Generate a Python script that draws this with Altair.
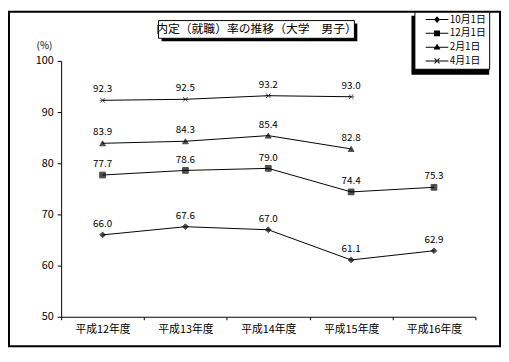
import altair as alt
import pandas as pd

categories = ["平成12年度", "平成13年度", "平成14年度", "平成15年度", "平成16年度"]
series = ["10月1日", "12月1日", "2月1日", "4月1日"]
oct1 = [66.0, 67.6, 67.0, 61.1, 62.9]
dec1 = [77.7, 78.6, 79.0, 74.4, 75.3]
feb1 = [83.9, 84.3, 85.4, 82.8, None]
apr1 = [92.3, 92.5, 93.2, 93.0, None]
title_text = "内定（就職）率の推移（大学　男子）"
unit_text = "(%)"

rows = []
for name, vals in zip(series, [oct1, dec1, feb1, apr1]):
    for c, v in zip(categories, vals):
        if v is not None:
            rows.append({"series": name, "category": c, "value": v})
df = pd.DataFrame(rows)

FONT = "Noto Sans CJK JP"
W, H = 421, 260

xenc = alt.X("category:N", sort=categories, bandPosition=0.5,
             scale=alt.Scale(type="band", domain=categories, paddingInner=0, paddingOuter=0),
             axis=alt.Axis(title=None, tickBand="extent", tickSize=3, labelPadding=4,
                           labelAngle=0, domainColor="black", tickColor="black",
                           labelColor="black", labelFont=FONT, labelFontSize=11))
yenc = alt.Y("value:Q", scale=alt.Scale(domain=[50, 100], nice=False, zero=False),
             axis=alt.Axis(title=None, values=[50, 60, 70, 80, 90, 100], grid=False,
                           tickSize=4, labelPadding=4, domainColor="black",
                           tickColor="black", labelColor="black", labelFont=FONT,
                           labelFontSize=11))

one = alt.Data(values=[{"a": 1}])

frame = alt.Chart(one).mark_rect(fillOpacity=0, stroke="black", strokeWidth=2).encode(
    x=alt.value(-53), x2=alt.value(446), y=alt.value(-50), y2=alt.value(290))

title_shadow = alt.Chart(one).mark_rect(fill="black").encode(
    x=alt.value(102), x2=alt.value(301), y=alt.value(-38), y2=alt.value(-20))
title_box = alt.Chart(one).mark_rect(fill="white", stroke="black", strokeWidth=1).encode(
    x=alt.value(99), x2=alt.value(298), y=alt.value(-41), y2=alt.value(-23))
title = alt.Chart(one).mark_text(font=FONT, fontSize=12, color="black",
                                 align="center", baseline="middle").encode(
    x=alt.value(198.5), y=alt.value(-32), text=alt.value(title_text))
unit = alt.Chart(one).mark_text(font=FONT, fontSize=10, color="black",
                                align="center", baseline="middle").encode(
    x=alt.value(-17), y=alt.value(-15), text=alt.value(unit_text))

legend_shadow = alt.Chart(one).mark_rect(fill="black").encode(
    x=alt.value(356), x2=alt.value(435), y=alt.value(-46), y2=alt.value(14))

base = alt.Chart(df)
lines = base.mark_line(color="black", strokeWidth=1).encode(
    x=xenc, y=yenc, detail="series:N")
xmark = "M-0.8,-0.8L0.8,0.8M0.8,-0.8L-0.8,0.8M-1,0H1"
points = base.mark_point(filled=False, color="black", size=34, strokeWidth=1,
                         fill="black").encode(
    x=xenc, y=yenc,
    shape=alt.Shape("series:N", scale=alt.Scale(domain=series,
                    range=["diamond", "square", "triangle-up", xmark]), legend=None))
labels = base.mark_text(font=FONT, fontSize=10, color="black", dy=-11,
                        baseline="middle").encode(
    x=xenc, y=yenc, text=alt.Text("value:Q", format=".1f"))

LINE = "M-2.3,-0.1H2.3V0.1H-2.3Z"
legend_paths = [
    LINE + "M0,-0.7L0.6,0L0,0.7L-0.6,0Z",
    LINE + "M-0.6,-0.6H0.6V0.6H-0.6Z",
    LINE + "M0,-0.7L0.7,0.5H-0.7Z",
    LINE + "M-0.57,-0.43L0.43,0.57L0.57,0.43L-0.43,-0.57Z"
           "M0.43,-0.57L0.57,-0.43L-0.43,0.57L-0.57,0.43Z",
]
legend_layer = base.mark_point(filled=True, color="black", opacity=0).encode(
    x=xenc, y=yenc,
    shape=alt.Shape("series:N", scale=alt.Scale(domain=series, range=legend_paths),
                    legend=alt.Legend(title=None, orient="none", legendX=359, legendY=-50,
                                      symbolSize=100, symbolOpacity=1,
                                      symbolFillColor="black", symbolStrokeColor="black",
                                      symbolStrokeWidth=0, symbolOffset=15,
                                      labelOffset=8, labelFont=FONT, labelFontSize=10,
                                      labelColor="black",
                                      labelExpr="length(datum.label) < 5 ? '\u2007' + datum.label : datum.label",
                                      rowPadding=4, padding=3, strokeColor="black",
                                      fillColor="white", cornerRadius=0)))

chart = alt.layer(frame, title_shadow, title_box, title, unit, legend_shadow,
                  lines, points, labels, legend_layer).resolve_scale(
    shape="independent").properties(
    width=W, height=H, autosize=alt.AutoSizeParams(type="none"),
    padding={"left": 54, "top": 51, "right": 26, "bottom": 31},
    background="white"
).configure_view(stroke=None)

chart.save("out.html", embed_options={"renderer": "svg", "actions": False})
